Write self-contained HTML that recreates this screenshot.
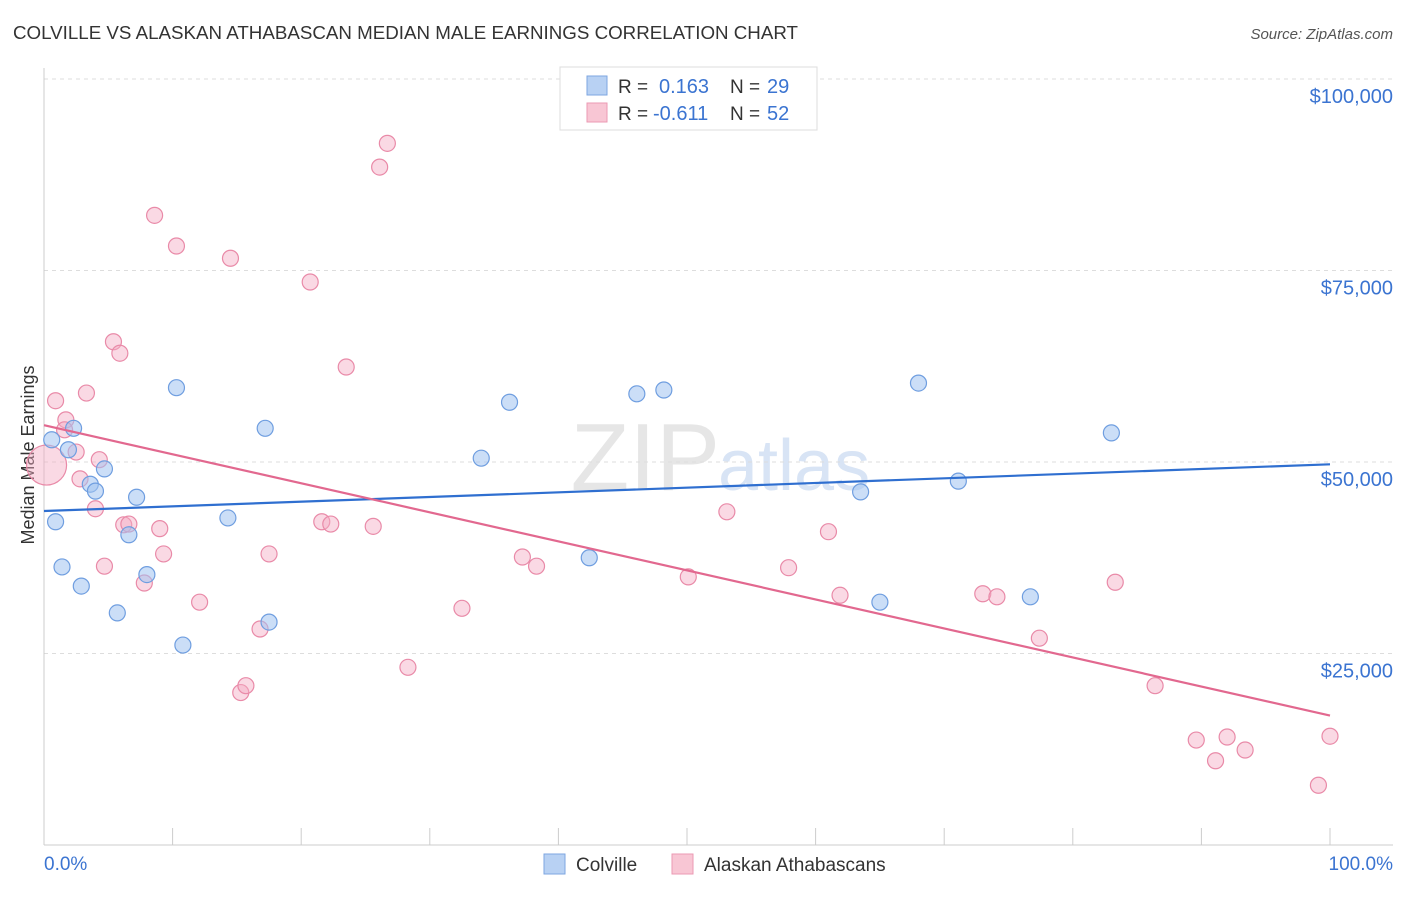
<!DOCTYPE html>
<html><head><meta charset="utf-8"><style>
body{margin:0;background:#fff;font-family:"Liberation Sans",sans-serif;}
svg text{font-family:"Liberation Sans",sans-serif;}
</style></head><body>
<svg id="chart" width="1406" height="892">
<text x="13" y="39" font-size="18" fill="#333" textLength="785" lengthAdjust="spacingAndGlyphs">COLVILLE VS ALASKAN ATHABASCAN MEDIAN MALE EARNINGS CORRELATION CHART</text>
<text x="1393" y="39" font-size="15" fill="#555" font-style="italic" text-anchor="end">Source: ZipAtlas.com</text>
<text x="720" y="490" font-size="96" fill="#e6e6e6" font-family="Liberation Serif" text-anchor="end">ZIP</text>
<text x="718" y="490" font-size="72" fill="#d8e4f5">atlas</text>
<text transform="translate(34,455) rotate(-90)" font-size="18" fill="#333" text-anchor="middle">Median Male Earnings</text>
<g id="grid"></g><g id="axes"></g><g id="pts"></g><g id="trends"></g>
<g>
<rect x="560" y="67" width="257" height="63" fill="#fff" stroke="#ddd"/>
<rect x="587" y="76" width="20" height="19" fill="#b8d1f3" stroke="#7ea6e0"/>
<rect x="587" y="103" width="20" height="19" fill="#f8c6d4" stroke="#eb9ab3"/>
<text x="618" y="93" font-size="19" fill="#333">R = </text><text x="659" y="93" font-size="20" fill="#3b74d1">0.163</text>
<text x="730" y="93" font-size="19" fill="#333">N = </text><text x="767" y="93" font-size="20" fill="#3b74d1">29</text>
<text x="618" y="120" font-size="19" fill="#333">R = </text><text x="653" y="120" font-size="20" fill="#3b74d1">-0.611</text>
<text x="730" y="120" font-size="19" fill="#333">N = </text><text x="767" y="120" font-size="20" fill="#3b74d1">52</text>
</g>
<g>
<rect x="544" y="854" width="21" height="20" fill="#b8d1f3" stroke="#7ea6e0"/>
<text x="576" y="871" font-size="19" fill="#333">Colville</text>
<rect x="672" y="854" width="21" height="20" fill="#f8c6d4" stroke="#eb9ab3"/>
<text x="704" y="871" font-size="19" fill="#333">Alaskan Athabascans</text>
</g>
<text x="44" y="870" font-size="19" fill="#3b74d1">0.0%</text>
<text x="1393" y="870" font-size="19" fill="#3b74d1" text-anchor="end">100.0%</text>
</svg>
<script>
const yTicks=[100000,75000,50000,25000];
const yTickLabels=["$100,000","$75,000","$50,000","$25,000"];
const blueX=[0.6,0.9,1.4,1.9,2.3,2.9,3.6,4.0,4.7,5.7,6.6,7.2,8.0,10.3,10.8,14.3,17.2,17.5,34.0,36.2,42.4,46.1,48.2,63.5,65.0,68.0,71.1,76.7,83.0];
const blueY=[52900,42200,36300,51600,54400,33800,47100,46200,49100,30300,40500,45400,35300,59700,26100,42700,54400,29100,50500,57800,37500,58900,59400,46100,31700,60300,47500,32400,53800];
const pinkX=[0.2,0.9,1.7,1.6,2.5,2.8,3.3,4.0,4.3,4.7,5.4,5.9,6.2,6.6,7.8,8.6,9.0,9.3,10.3,12.1,14.5,15.3,15.7,16.8,17.5,20.7,21.6,22.3,23.5,25.6,26.1,26.7,28.3,32.5,37.2,38.3,50.1,53.1,57.9,61.0,61.9,73.0,74.1,77.4,83.3,86.4,89.6,91.1,92.0,93.4,99.1,100];
const pinkY=[49600,58000,55500,54200,51300,47800,59000,43900,50300,36400,65700,64200,41800,41900,34200,82200,41300,38000,78200,31700,76600,19900,20800,28200,38000,73500,42200,41900,62400,41600,88500,91600,23200,30900,37600,36400,35000,43500,36200,40900,32600,32800,32400,27000,34300,20800,13700,11000,14100,12400,7800,14200];
const blueTrend=[43600,49700];
const pinkTrend=[54800,16900];
const NS="http://www.w3.org/2000/svg";
const xs=p=>44+p*12.86;
const ys=v=>462-(v-50000)*191.5/25000;
function mk(t,a,par){const e=document.createElementNS(NS,t);for(const k in a)e.setAttribute(k,a[k]);document.getElementById(par).appendChild(e);return e;}
yTicks.forEach((v,i)=>{
 const l=mk('line',{x1:44,x2:1393,y1:ys(v),y2:ys(v),stroke:'#ddd','stroke-dasharray':'4,4'},'grid');
 
 
 const t=mk('text',{x:1393,y:ys(v)+24,'font-size':20,fill:'#3b74d1','text-anchor':'end'},'grid');
 t.textContent=yTickLabels[i];
 
 
});
mk('line',{x1:44,x2:44,y1:68,y2:845,stroke:'#ccc'},'axes');
mk('line',{x1:44,x2:1393,y1:845,y2:845,stroke:'#ccc'},'axes');
for(let i=0;i<=10;i++){const t=mk('line',{x1:xs(i*10),x2:xs(i*10),y1:828,y2:845,stroke:'#ccc'},'axes');
 
 }
pinkX.forEach((x,i)=>{const c=mk('circle',{cx:xs(x),cy:ys(pinkY[i]),r:i===0?20:8,fill:'rgba(244,170,195,0.45)',stroke:'#e98aa8','stroke-width':1.2},'pts');
 
 });
blueX.forEach((x,i)=>{const c=mk('circle',{cx:xs(x),cy:ys(blueY[i]),r:8,fill:'rgba(160,195,240,0.55)',stroke:'#6f9ee0','stroke-width':1.2},'pts');
 
 });
const bl=mk('line',{x1:xs(0),x2:xs(100),y1:ys(blueTrend[0]),y2:ys(blueTrend[1]),stroke:'#2f6fd0','stroke-width':2.2},'trends');


const pl=mk('line',{x1:xs(0),x2:xs(100),y1:ys(pinkTrend[0]),y2:ys(pinkTrend[1]),stroke:'#e2688f','stroke-width':2.2},'trends');


</script>
</body></html>
